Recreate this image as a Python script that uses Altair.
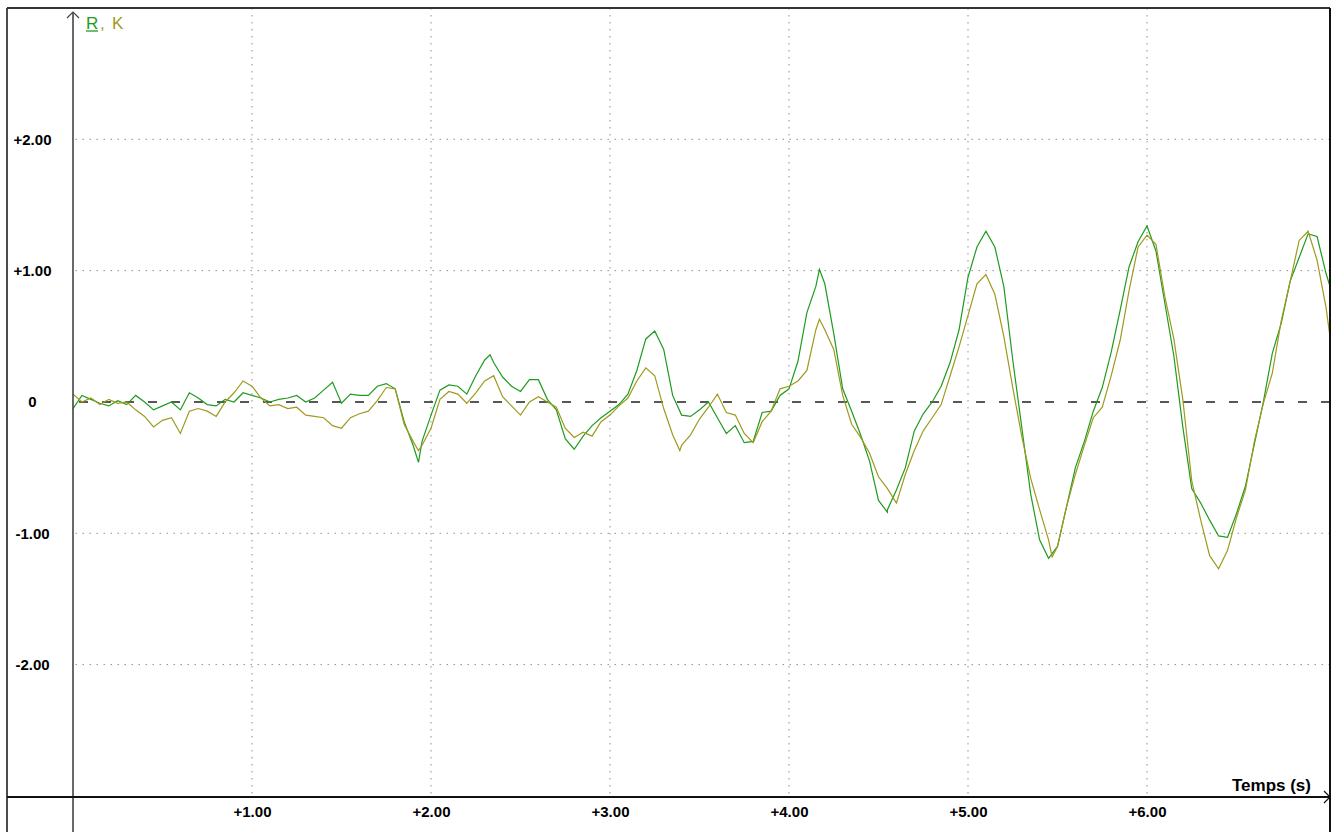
import altair as alt
import pandas as pd

# ---------------- data ----------------
STEP = 0.05  # sampling step of the readings, seconds

R_VALUES = [
    -0.05, 0.05, 0.02, -0.01, -0.03, 0.01, -0.02, 0.05, 0.00, -0.06,
    -0.03, 0.00, -0.06, 0.07, 0.03, -0.02, -0.03, 0.02, 0.00, 0.07,
    0.05, 0.03, 0.00, 0.02, 0.03, 0.05, 0.00, 0.03, 0.09, 0.15,
    -0.01, 0.06, 0.05, 0.05, 0.12, 0.14, 0.10, -0.15, -0.33, -0.30,
    -0.10, 0.09, 0.13, 0.12, 0.06, 0.20, 0.32, 0.30, 0.19, 0.12,
    0.08, 0.17, 0.17, 0.02, -0.06, -0.28, -0.36, -0.26, -0.18, -0.12,
    -0.07, -0.02, 0.06, 0.24, 0.48, 0.54, 0.40, 0.05, -0.10, -0.11,
    -0.06, 0.00, -0.12, -0.24, -0.18, -0.31, -0.30, -0.08, -0.07, 0.05,
    0.10, 0.31, 0.68, 0.88, 0.90, 0.52, 0.10, -0.07, -0.25, -0.45,
    -0.75, -0.82, -0.67, -0.50, -0.22, -0.09, 0.00, 0.12, 0.30, 0.55,
    0.95, 1.18, 1.30, 1.18, 0.88, 0.32, -0.19, -0.70, -1.05, -1.19,
    -1.10, -0.80, -0.50, -0.30, -0.07, 0.11, 0.38, 0.70, 1.03, 1.22,
    1.34, 1.15, 0.75, 0.35, -0.19, -0.66, -0.77, -0.90, -1.02, -1.03,
    -0.85, -0.64, -0.32, 0.00, 0.37, 0.60, 0.92, 1.10, 1.28, 1.26,
    0.98,
]
K_VALUES = [
    0.06, 0.00, 0.03, -0.02, 0.02, -0.01, 0.00, -0.06, -0.11, -0.19,
    -0.14, -0.12, -0.24, -0.07, -0.05, -0.07, -0.11, 0.00, 0.07, 0.16,
    0.12, 0.03, -0.03, -0.02, -0.05, -0.04, -0.10, -0.11, -0.12, -0.18,
    -0.20, -0.12, -0.09, -0.07, 0.01, 0.11, 0.10, -0.17, -0.30, -0.33,
    -0.20, 0.02, 0.08, 0.06, -0.01, 0.07, 0.16, 0.20, 0.04, -0.03,
    -0.10, 0.00, 0.04, 0.00, -0.04, -0.20, -0.27, -0.23, -0.26, -0.15,
    -0.10, -0.03, 0.03, 0.16, 0.26, 0.20, -0.05, -0.25, -0.33, -0.25,
    -0.13, -0.04, 0.06, -0.08, -0.10, -0.24, -0.31, -0.15, -0.07, 0.10,
    0.12, 0.16, 0.24, 0.55, 0.55, 0.40, 0.05, -0.17, -0.27, -0.39,
    -0.57, -0.66, -0.77, -0.55, -0.37, -0.22, -0.12, -0.02, 0.20, 0.42,
    0.66, 0.90, 0.97, 0.82, 0.50, 0.11, -0.26, -0.58, -0.82, -1.05,
    -1.10, -0.80, -0.55, -0.33, -0.12, -0.04, 0.20, 0.47, 0.85, 1.18,
    1.27, 1.20, 0.80, 0.48, 0.02, -0.60, -0.90, -1.17, -1.27, -1.13,
    -0.88, -0.67, -0.30, -0.01, 0.22, 0.62, 0.92, 1.23, 1.30, 1.08,
    0.72,
]
# extra readings at local extremes and at the right edge
R_EXTRA_T = [1.93, 2.33, 4.17, 4.55, 7.02]
R_EXTRA_V = [-0.46, 0.36, 1.01, -0.84, 0.89]
K_EXTRA_T = [1.93, 3.39, 4.17, 5.47, 7.02]
K_EXTRA_V = [-0.37, -0.37, 0.63, -1.18, 0.52]

SERIES = ["R", "K"]
COLORS = ["#1F9B1F", "#9E9A1E"]

X_TICKS = [1, 2, 3, 4, 5, 6]
Y_TICKS = [-2, -1, 0, 1, 2]
X_GRID = [1, 2, 3, 4, 5, 6]
Y_GRID = [-2, -1, 1, 2]
X_DOMAIN = [0, 7.0223]
Y_DOMAIN = [-3.008, 3.0]

# ---------------- table ----------------
rows = []
for name, vals, et, ev in [("R", R_VALUES, R_EXTRA_T, R_EXTRA_V),
                           ("K", K_VALUES, K_EXTRA_T, K_EXTRA_V)]:
    pts = [(round(i * STEP, 3), v) for i, v in enumerate(vals)] + list(zip(et, ev))
    pts.sort()
    for t, v in pts:
        rows.append({"t": t, "v": v, "series": name})
df = pd.DataFrame(rows)

W, H = 1257, 789
FONT = "Liberation Sans"

xs = alt.Scale(domain=X_DOMAIN, nice=False, zero=False)
ys = alt.Scale(domain=Y_DOMAIN, nice=False, zero=False)

x_axis = alt.Axis(values=X_TICKS, labelExpr="'+' + format(datum.value, '.2f')",
                  grid=False, domain=False, ticks=False, title=None,
                  labelFont=FONT, labelFontWeight="bold", labelFontSize=15,
                  labelColor="#000000", labelPadding=7, labelBaseline="top",
                  labelAlign="center", labelOverlap=False)
y_axis = alt.Axis(values=Y_TICKS,
                  labelExpr="datum.value == 0 ? '0' : (datum.value > 0 ? '+' : '-') + format(abs(datum.value), '.2f')",
                  grid=False, domain=False, ticks=False, title=None,
                  labelFont=FONT, labelFontWeight="bold", labelFontSize=15,
                  labelColor="#000000", labelPadding=41, labelAlign="center",
                  labelBaseline="middle", labelOverlap=False)


def X(f):
    return alt.X(f"{f}:Q", scale=xs, axis=x_axis)


def Y(f):
    return alt.Y(f"{f}:Q", scale=ys, axis=y_axis)


one = pd.DataFrame({"a": [0]})

grid_v = alt.Chart(pd.DataFrame({"x": X_GRID})).mark_rule(
    color="#8f8f8f", strokeDash=[1.5, 5.5], strokeWidth=1).encode(x=X("x"))
grid_h = alt.Chart(pd.DataFrame({"y": Y_GRID})).mark_rule(
    color="#8f8f8f", strokeDash=[1.5, 5.5], strokeWidth=1).encode(y=Y("y"))
zero = alt.Chart(pd.DataFrame({"y": [0]})).mark_rule(
    color="#222222", strokeDash=[9, 14], strokeWidth=1.6).encode(y=Y("y"))

lines = alt.Chart(df).mark_line(strokeWidth=1.2).encode(
    x=X("t"), y=Y("v"),
    color=alt.Color("series:N", scale=alt.Scale(domain=SERIES, range=COLORS), legend=None),
)

# frame and axis lines (decoration)
frame_l = alt.Chart(one).mark_rule(color="#111111", strokeWidth=1.5).encode(
    x=alt.value(-66), y=alt.value(0), y2=alt.value(824))
frame_t = alt.Chart(one).mark_rule(color="#333333", strokeWidth=2).encode(
    x=alt.value(-66), x2=alt.value(W), y=alt.value(0))
frame_r = alt.Chart(one).mark_rule(color="#111111", strokeWidth=2).encode(
    x=alt.value(W), y=alt.value(0), y2=alt.value(824))
y_line = alt.Chart(one).mark_rule(color="#444444", strokeWidth=1.6).encode(
    x=alt.value(0), y=alt.value(4), y2=alt.value(824))
x_line = alt.Chart(one).mark_rule(color="#111111", strokeWidth=2).encode(
    x=alt.value(-66), x2=alt.value(W), y=alt.value(H))
y_arrow = alt.Chart(one).mark_point(shape="M-1,1L0,0L1,1", filled=False, size=144,
                                    stroke="#444444", strokeWidth=1.2, opacity=1).encode(
    x=alt.value(0), y=alt.value(4))
x_arrow = alt.Chart(one).mark_point(shape="M-1,-1L0,0L-1,1", filled=False, size=144,
                                    stroke="#111111", strokeWidth=1.2, opacity=1).encode(
    x=alt.value(W), y=alt.value(H))

temps = alt.Chart(one).mark_text(text="Temps (s)", align="right", baseline="alphabetic",
                                 font=FONT, fontWeight="bold", fontSize=17,
                                 color="#000000").encode(x=alt.value(1238), y=alt.value(783))
leg_r = alt.Chart(one).mark_text(text="R", align="left", baseline="alphabetic",
                                 font=FONT, fontSize=17, color=COLORS[0]).encode(
    x=alt.value(13), y=alt.value(21))
leg_c = alt.Chart(one).mark_text(text=",", align="left", baseline="alphabetic",
                                 font=FONT, fontSize=17, color=COLORS[1]).encode(
    x=alt.value(27), y=alt.value(21))
leg_k = alt.Chart(one).mark_text(text="K", align="left", baseline="alphabetic",
                                 font=FONT, fontSize=17, color=COLORS[1]).encode(
    x=alt.value(39), y=alt.value(21))
leg_u = alt.Chart(one).mark_rule(color=COLORS[0], strokeWidth=1.3).encode(
    x=alt.value(13), x2=alt.value(25), y=alt.value(23))

chart = alt.layer(
    grid_v, grid_h, zero, lines,
    frame_l, frame_t, frame_r, y_line, x_line, y_arrow, x_arrow,
    temps, leg_r, leg_c, leg_k, leg_u,
).properties(
    width=W, height=H,
    autosize=alt.AutoSizeParams(type="none"),
    padding={"left": 73, "top": 8, "right": 7, "bottom": 35},
    background="#ffffff",
).configure_view(stroke=None)

chart.save("out.html", embed_options={"renderer": "svg", "actions": False})
